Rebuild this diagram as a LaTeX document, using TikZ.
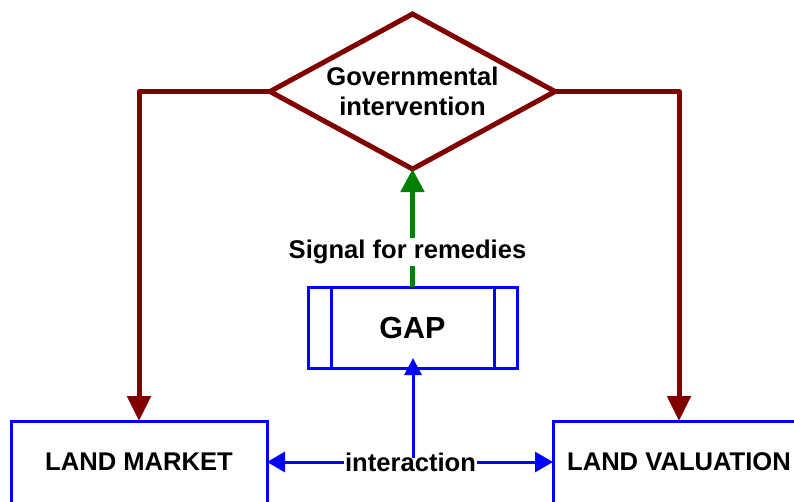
\documentclass[tikz,border=0pt]{standalone}
\usepackage{fontspec}
\setmainfont{Liberation Sans}
\usetikzlibrary{arrows.meta,shapes.geometric,calc}
\definecolor{govred}{HTML}{800000}
\definecolor{flowblue}{HTML}{0000FF}
\definecolor{signalgreen}{HTML}{008000}
\begin{document}
\begin{tikzpicture}[x=1pt,y=-1pt,
  lbl/.style={font=\fontsize{25.6}{30}\selectfont\bfseries},
  landbox/.style={draw=flowblue, line width=3pt, minimum height=82pt,
    inner sep=0pt, outer sep=0pt, lbl},
  gapbox/.style={draw=flowblue, line width=3pt, minimum width=209pt,
    minimum height=81pt, inner sep=0pt, outer sep=0pt,
    font=\fontsize{30.5}{34}\selectfont\bfseries},
  decision/.style={diamond, draw=govred, line width=5pt, line join=miter,
    aspect=1.84, minimum width=285pt, minimum height=155pt,
    inner sep=0pt, outer sep=0pt, align=center, lbl},
  govline/.style={draw=govred, line width=5pt, line join=round,
    -{Triangle[length=25pt,width=23pt]}},
  signal/.style={draw=signalgreen, line width=5pt,
    -{Triangle[length=23pt,width=23pt]}},
  flow/.style={draw=flowblue, line width=3pt,
    -{Triangle[length=18pt,width=20pt]}},
  upflow/.style={draw=flowblue, line width=3pt,
    -{Triangle[length=17pt,width=17pt]}}]
\useasboundingbox (0,0) rectangle (794,501);
\clip (0,0) rectangle (794,501);

% decision diamond
\node[decision] (gov) at (412.5,91.5) {Governmental\\intervention};

% the two land boxes, running past the lower and right edges
\node[landbox, minimum width=256pt] (lm) at (139,462) {LAND MARKET};
\node[landbox, minimum width=252pt] (lv) at (679,462) {LAND VALUATION};

% gap box with inner side bars
\node[gapbox] (gap) at (412.5,327.5) {GAP};
\draw[flowblue, line width=3pt]
  ($(gap.north west)+(23,0)$) -- ($(gap.south west)+(23,0)$)
  ($(gap.north east)+(-23,0)$) -- ($(gap.south east)+(-23,0)$);

% interaction between market and valuation
\node[lbl, inner sep=1pt] (ia) at (410.5,462) {interaction};
\draw[flow] (ia.west) -- (lm.east);
\draw[flow] (ia.east) -- (lv.west);
\coordinate (iaup) at (413,458);
\draw[upflow, shorten >=-10pt] (iaup) -- (iaup |- gap.south);

% signal from the gap to the intervention
\draw[signal] (gap.north) -- node[pos=0.32, fill=white, inner sep=2pt,
  xshift=-5pt, yshift=-3pt, lbl] (sig) {Signal for remedies} (gov.south);

% intervention acting on both sides
\draw[govline] (gov.west) -| (lm.north);
\draw[govline] (gov.east) -| (lv.north);
\end{tikzpicture}
\end{document}
